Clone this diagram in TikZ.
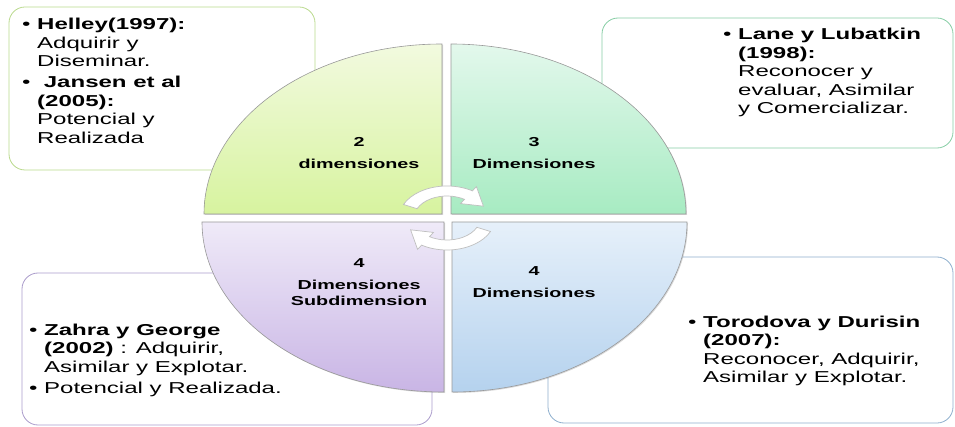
\documentclass[tikz,border=0pt]{standalone}
\usepackage{fontspec}
\setmainfont{Liberation Sans}[FakeStretch=1.52]
\usetikzlibrary{shadows}
\definecolor{bTL}{HTML}{B9D98C}
\definecolor{bTR}{HTML}{86CDA4}
\definecolor{bBL}{HTML}{AB9CCB}
\definecolor{bBR}{HTML}{8DAECD}
\newcommand{\blist}[1]{\begin{tabular}[t]{@{}p{15pt}@{}l@{}}#1\end{tabular}}

\begin{document}
\begin{tikzpicture}[x=1pt, y=1pt,
      qd/.style={draw=black!40, line width=0.6pt,
        drop shadow={opacity=0.3, shadow xshift=1pt, shadow yshift=-1pt}},
      bx/.style={rounded corners=16pt, line width=0.8pt},
      tx/.style={anchor=base west, inner sep=0pt, font=\fontsize{15.8}{18.5}\selectfont},
      lb/.style={anchor=base, inner sep=0pt, align=center, font=\fontsize{13}{16}\selectfont\bfseries},
      arw/.style={fill=white, draw=black!25, line width=0.7pt},
      turn/.pic={
        \path[arw] (155:32) arc[start angle=155, end angle=58, radius=32]
          -- (58:37) -- (26:27) -- (58:17) -- (58:22)
          arc[start angle=58, end angle=155, radius=22] -- cycle;
      }]
    \useasboundingbox (0,0) rectangle (955,426);
    % boxes behind
    \draw[bx, draw=bTL] (9,256) rectangle (315,419);
    \draw[bx, draw=bTR] (602,278) rectangle (953,408);
    \draw[bx, draw=bBL] (22,1) rectangle (432,153);
    \draw[bx, draw=bBR] (548,3) rectangle (953,169);
    % quadrants
    \path[qd, top color={rgb,255:red,242;green,250;blue,223}, bottom color={rgb,255:red,215;green,243;blue,159}]
      (442,212) -- ++(-238,0) arc[start angle=180, end angle=90, x radius=238, y radius=170] -- cycle;
    \path[qd, top color={rgb,255:red,227;green,248;blue,236}, bottom color={rgb,255:red,167;green,235;blue,194}]
      (451,212) -- ++(0,170) arc[start angle=90, end angle=0, x radius=235, y radius=170] -- cycle;
    \path[qd, top color={rgb,255:red,239;green,234;blue,248}, bottom color={rgb,255:red,201;green,181;blue,229}]
      (444,204) -- ++(-242,0) arc[start angle=180, end angle=270, x radius=242, y radius=170] -- cycle;
    \path[qd, top color={rgb,255:red,230;green,240;blue,250}, bottom color={rgb,255:red,181;green,210;blue,238}]
      (452,204) -- ++(0,-170) arc[start angle=270, end angle=360, x radius=235, y radius=170] -- cycle;
    % cycle arrows
    \pic[xscale=1.5] (up) at (447,208) {turn};
    \pic[xscale=1.5, rotate=180] (dn) at (447,208) {turn};
    % quadrant labels (base = last line)
    \node[lb] (q2) at (359,257) {2\\[6pt]dimensiones};
    \node[lb] (q3) at (534,257) {3\\[6pt]Dimensiones};
    \node[lb] (q4a) at (359,121) {4\\[6pt]Dimensiones\\Subdimension};
    \node[lb] (q4b) at (534,129) {4\\[6pt]Dimensiones};
    % box texts
    \node[tx] (helley) at (22,396) {\blist{%
      \textbullet & \textbf{Helley(1997):}\\
       & Adquirir y\\
       & Diseminar.\\[2.5pt]
      \textbullet & \ \textbf{Jansen et al}\\
       & \textbf{(2005):}\\
       & Potencial y\\
       & Realizada}};
    \node[tx] (lane) at (723,386) {\blist{%
      \textbullet & \textbf{Lane y Lubatkin}\\
       & \textbf{(1998):}\\
       & Reconocer y\\
       & evaluar, Asimilar\\
       & y Comercializar.}};
    \node[tx] (zahra) at (29,91) {\blist{%
      \textbullet & \textbf{Zahra y George}\\
       & \textbf{(2002)} : Adquirir,\\
       & Asimilar y Explotar.\\[2.5pt]
      \textbullet & Potencial y Realizada.}};
    \node[tx] (torodova) at (688,99) {\blist{%
      \textbullet & \textbf{Torodova y Durisin}\\
       & \textbf{(2007):}\\
       & Reconocer, Adquirir,\\
       & Asimilar y Explotar.}};
  \end{tikzpicture}
\end{document}
